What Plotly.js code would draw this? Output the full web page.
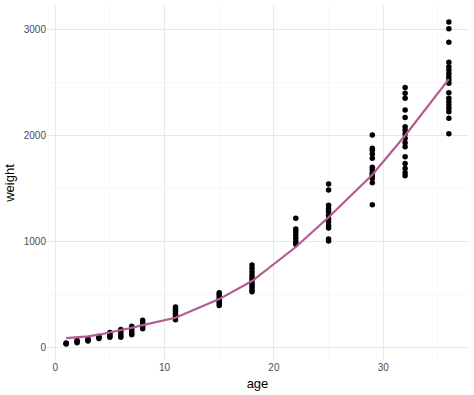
<!DOCTYPE html>
<html>
<head>
<meta charset="utf-8">
<script src="https://cdn.plot.ly/plotly-3.0.1.min.js"></script>
<style>html,body{margin:0;padding:0;background:#fff;}#chart{width:474px;height:395px;}</style>
</head>
<body>
<div id="chart"></div>
<script>
// observed weights grouped by age
const ages = [1, 2, 3, 4, 5, 6, 7, 8, 11, 15, 18, 22, 25, 29, 32, 36];
const weightsByAge = [
  [48, 42, 38],
  [70, 60, 50],
  [85, 75, 65],
  [110, 100, 90],
  [145, 130, 115, 100],
  [175, 155, 135, 115, 100],
  [205, 180, 160, 140, 125],
  [260, 240, 220, 200, 180],
  [385, 365, 345, 325, 305, 285, 265],
  [520, 500, 480, 460, 440, 420, 400],
  [781, 750, 718, 687, 661, 640, 614, 593, 571, 546, 530],
  [1220, 1119, 1094, 1063, 1032, 1000, 976],
  [1543, 1486, 1342, 1313, 1285, 1250, 1213, 1186, 1150, 1129, 1025, 1007],
  [2004, 1879, 1860, 1825, 1785, 1700, 1674, 1650, 1637, 1620, 1596, 1555, 1348],
  [2452, 2396, 2349, 2239, 2170, 2082, 2051, 2013, 1973, 1931, 1894, 1800, 1737, 1690, 1649, 1621],
  [3067, 3004, 2876, 2688, 2646, 2615, 2584, 2552, 2521, 2490, 2402, 2349, 2317, 2286, 2255, 2223, 2161, 2016]
];
// fitted curve values at each age
const fitted = [92, 100, 110, 125, 145, 165, 190, 215, 285, 460, 630, 950, 1230, 1630, 2000, 2530];

const px = [], py = [];
ages.forEach((a, i) => weightsByAge[i].forEach(w => { px.push(a); py.push(w); }));

const traces = [
  {x: px, y: py, type: 'scatter', mode: 'markers',
   marker: {color: '#000000', size: 5.5}, hoverinfo: 'x+y'},
  {x: ages, y: fitted, type: 'scatter', mode: 'lines',
   line: {color: '#b65a92', width: 2.2}}
];

const gridMajor = '#e8e8e8', gridMinor = '#f3f3f3';
const layout = {
  width: 474, height: 395,
  margin: {l: 47, r: 6, t: 6, b: 35},
  paper_bgcolor: '#ffffff', plot_bgcolor: '#ffffff',
  showlegend: false,
  font: {family: 'Liberation Sans, Arial, sans-serif', color: '#4d4d4d'},
  xaxis: {
    range: [-0.75, 37.75], tickvals: [0, 10, 20, 30], ticks: '',
    showgrid: true, gridcolor: gridMajor, gridwidth: 1, zeroline: false, showline: false,
    minor: {tickvals: [5, 15, 25, 35], showgrid: true, gridcolor: gridMinor, gridwidth: 0.6},
    tickfont: {size: 10, color: '#4d4d4d'},
    title: {text: 'age', font: {size: 13, color: '#000000'}, standoff: 6}
  },
  yaxis: {
    range: [-113, 3218], tickvals: [0, 1000, 2000, 3000], ticks: '',
    showgrid: true, gridcolor: gridMajor, gridwidth: 1, zeroline: false, showline: false,
    minor: {tickvals: [500, 1500, 2500], showgrid: true, gridcolor: gridMinor, gridwidth: 0.6},
    tickfont: {size: 10, color: '#4d4d4d'},
    title: {text: 'weight', font: {size: 13, color: '#000000'}, standoff: 6}
  }
};
Plotly.newPlot('chart', traces, layout, {displayModeBar: false, staticPlot: true});
</script>
</body>
</html>
